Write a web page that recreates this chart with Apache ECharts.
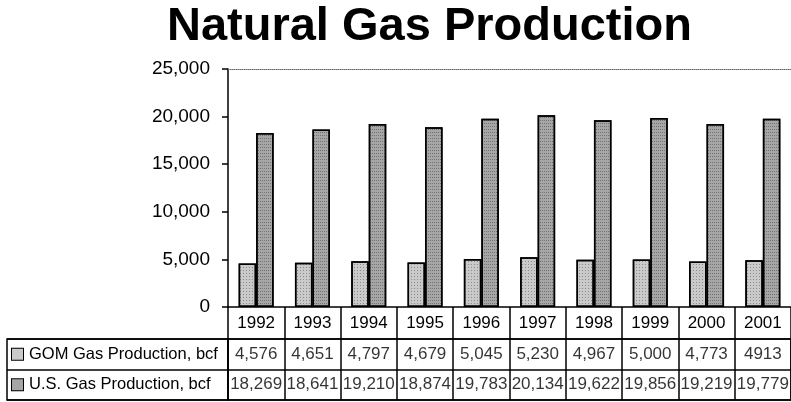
<!DOCTYPE html>
<html>
<head>
<meta charset="utf-8">
<script src="https://cdn.jsdelivr.net/npm/echarts@6/dist/echarts.min.js"></script>
<style>
  html, body { margin: 0; padding: 0; background: #fff; }
  #gas { width: 791px; height: 402px; }
</style>
</head>
<body>
<div id="gas"></div>
<script>
	var years = ['1992', '1993', '1994', '1995', '1996', '1997', '1998', '1999', '2000', '2001'];
	var gom = [4576, 4651, 4797, 4679, 5045, 5230, 4967, 5000, 4773, 4913];
	var us = [18269, 18641, 19210, 18874, 19783, 20134, 19622, 19856, 19219, 19779];
	var gomText = ['4,576', '4,651', '4,797', '4,679', '5,045', '5,230', '4,967', '5,000', '4,773', '4913'];
	var usText = ['18,269', '18,641', '19,210', '18,874', '19,783', '20,134', '19,622', '19,856', '19,219', '19,779'];
	var rowNames = ['GOM Gas Production, bcf', 'U.S. Gas Production, bcf'];
	var yMax = 25000, yStep = 5000;

	var font = 'Liberation Sans';
	var gomColor = '#cacaca', usColor = '#a6a6a6';

	var cells = [];
	years.forEach(function (y, i) {
		cells.push([y, rowNames[0], gomText[i]]);
		cells.push([y, rowNames[1], usText[i]]);
	});

	var chartDom = document.getElementById('gas');
	var myChart = echarts.init(chartDom);
	var option = {
		backgroundColor: '#fff',
		animation: false,
		title: {
			text: 'Natural Gas Production',
			left: 167, top: 4, padding: 0,
			textStyle: {fontFamily: font, fontWeight: 'bold', fontSize: 47, color: '#000'}
		},
		grid: [
			{left: 228, top: 69, width: 564, height: 238},
			// data cells of the table
			{left: 228, top: 339, width: 564, height: 61, show: true, borderColor: '#000', borderWidth: 1.5},
			// row label column of the table
			{left: 7, top: 339, width: 221, height: 61, show: true, borderColor: '#000', borderWidth: 1.5}
		],
		xAxis: [
			{type: 'category', gridIndex: 0, data: years,
				axisLine: {show: true, lineStyle: {color: '#000', width: 1.5}},
				axisTick: {show: true, length: 32, interval: 0, alignWithLabel: false, lineStyle: {color: '#000', width: 1.5}},
				axisLabel: {margin: 8, interval: 0, fontFamily: font, fontSize: 17, color: '#000'}},
			{type: 'category', gridIndex: 0, data: years, position: 'top',
				axisLine: {show: true, lineStyle: {color: '#666', width: 1, type: 'dotted'}},
				axisTick: {show: false}, axisLabel: {show: false}},
			{type: 'category', gridIndex: 1, data: years,
				axisLine: {show: false}, axisTick: {show: false}, axisLabel: {show: false},
				splitLine: {show: true, interval: 0, lineStyle: {color: '#000', width: 1.5}}},
			{type: 'value', gridIndex: 2, show: false}
		],
		yAxis: [
			{type: 'value', gridIndex: 0, min: 0, max: yMax, interval: yStep,
				axisLine: {show: true, lineStyle: {color: '#000', width: 1.5}},
				axisTick: {show: true, length: 6, lineStyle: {color: '#000', width: 1.5}},
				splitLine: {show: false},
				axisLabel: {margin: 18, fontFamily: font, fontSize: 19, color: '#000',
					formatter: function (v) { return v.toLocaleString('en-US'); }}},
			{type: 'category', gridIndex: 1, data: rowNames, inverse: true,
				axisLine: {show: false}, axisTick: {show: false}, axisLabel: {show: false},
				splitLine: {show: true, interval: 0, lineStyle: {color: '#000', width: 1.5}}},
			{type: 'category', gridIndex: 2, data: rowNames, inverse: true,
				axisLine: {show: false}, axisTick: {show: false},
				splitLine: {show: true, interval: 0, lineStyle: {color: '#000', width: 1.5}},
				axisLabel: {inside: true, margin: 5, fontFamily: font, fontSize: 16.5, color: '#000',
					formatter: function (v, i) { return (i === 0 ? '{g|}' : '{u|}') + '{t|' + v + '}'; },
					rich: {
						g: {width: 11, height: 11, backgroundColor: gomColor, borderColor: '#000', borderWidth: 1},
						u: {width: 11, height: 11, backgroundColor: usColor, borderColor: '#000', borderWidth: 1},
						t: {fontFamily: font, fontSize: 16.5, color: '#000', padding: [0, 0, 0, 6]}
					}}}
		],
		series: [
			{name: rowNames[0], type: 'bar', xAxisIndex: 0, yAxisIndex: 0, data: gom,
				barWidth: 17.5, barGap: '0%',
				itemStyle: {color: gomColor, borderColor: '#000', borderWidth: 1.5,
					decal: {symbol: 'rect', symbolSize: 1, dashArrayX: [1, 2], dashArrayY: [1, 2], color: 'rgba(60,60,60,0.45)'}}},
			{name: rowNames[1], type: 'bar', xAxisIndex: 0, yAxisIndex: 0, data: us,
				barWidth: 17.5, barGap: '0%',
				itemStyle: {color: usColor, borderColor: '#000', borderWidth: 1.5,
					decal: {symbol: 'rect', symbolSize: 1, dashArrayX: [1, 1], dashArrayY: [1, 2], color: 'rgba(40,40,40,0.4)'}}},
			{type: 'scatter', xAxisIndex: 2, yAxisIndex: 1, data: cells,
				symbolSize: 1, itemStyle: {color: 'transparent'}, silent: true,
				label: {show: true, position: 'inside', fontFamily: font, fontSize: 17, color: '#000',
					formatter: function (p) { return p.value[2]; }}}
		]
	};
	option && myChart.setOption(option);
</script>
</body>
</html>
